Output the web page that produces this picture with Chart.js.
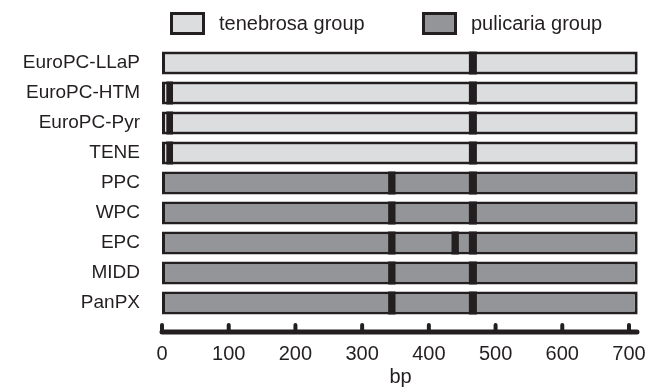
<!DOCTYPE html>
<html>
<head>
<meta charset="utf-8">
<script src="https://cdn.jsdelivr.net/npm/chart.js@4.4.1/dist/chart.umd.min.js"></script>
<style>
  html, body { margin: 0; padding: 0; background: #fff; }
  #wrap { width: 656px; height: 387px; }
</style>
</head>
<body>
<div id="wrap"><canvas id="chart"></canvas></div>
<script>
// Data (bp positions)
const categories = ["EuroPC-LLaP", "EuroPC-HTM", "EuroPC-Pyr", "TENE", "PPC", "WPC", "EPC", "MIDD", "PanPX"];
const groups = ["tenebrosa", "tenebrosa", "tenebrosa", "tenebrosa", "pulicaria", "pulicaria", "pulicaria", "pulicaria", "pulicaria"];
const seqLength = [713, 713, 713, 713, 713, 713, 713, 713, 713];
const site7 = [null, [6.5, 16.5], [6.5, 16.5], [6.5, 16.5], null, null, null, null, null];
const site344 = [null, null, null, null, [339, 350], [339, 350], [339, 350], [339, 350], [339, 350]];
const site440 = [null, null, null, null, null, null, [434, 445], null, null];
const site466 = [[460, 472], [460, 472], [460, 472], [460, 472], [460, 472], [460, 472], [460, 472], [460, 472], [460, 472]];
const xTicks = [0, 100, 200, 300, 400, 500, 600, 700];
const legendLabels = ["tenebrosa group", "pulicaria group"];

const ink = "#231f20";
const lightFill = "#dcdddf";
const darkFill = "#939598";
const fontFamily = "'Liberation Sans', Arial, Helvetica, sans-serif";

const groupColor = g => (g === "tenebrosa" ? lightFill : darkFill);

function markerSet(values) {
    return {
        data: values,
        backgroundColor: ink,
        borderWidth: 0,
        barThickness: 23,
        grouped: false,
        inflateAmount: 0,
        order: 1
    };
}

// Thick axis line with rounded ticks pointing up
const axisLine = {
    id: "axisLine",
    afterDraw(chart) {
        const ctx = chart.ctx;
        const xs = chart.scales.x;
        const y = xs.top + 14;
        ctx.save();
        ctx.strokeStyle = ink;
        ctx.lineCap = "round";
        ctx.lineWidth = 5;
        ctx.beginPath();
        ctx.moveTo(xs.getPixelForValue(0), y);
        ctx.lineTo(xs.getPixelForValue(712), y);
        ctx.stroke();
        ctx.lineWidth = 4;
        ctx.beginPath();
        xTicks.forEach(v => {
            const px = xs.getPixelForValue(v);
            ctx.moveTo(px, y);
            ctx.lineTo(px, y - 7);
        });
        ctx.stroke();
        ctx.restore();
    }
};

// Legend boxes above the plot
const groupLegend = {
    id: "groupLegend",
    afterDraw(chart) {
        const ctx = chart.ctx;
        const items = [
            { x: 170, fill: lightFill, text: legendLabels[0] },
            { x: 422, fill: darkFill, text: legendLabels[1] }
        ];
        ctx.save();
        ctx.font = "20px " + fontFamily;
        ctx.textBaseline = "middle";
        items.forEach(it => {
            ctx.fillStyle = it.fill;
            ctx.fillRect(it.x, 12, 35, 23);
            ctx.lineWidth = 3;
            ctx.strokeStyle = ink;
            ctx.strokeRect(it.x + 1.5, 13.5, 32, 20);
            ctx.fillStyle = ink;
            ctx.fillText(it.text, it.x + 49, 24);
        });
        ctx.restore();
    }
};

new Chart(document.getElementById("chart"), {
    type: "bar",
    data: {
        labels: categories,
        datasets: [
            markerSet(site7),
            markerSet(site344),
            markerSet(site440),
            markerSet(site466),
            {
                data: seqLength.map(v => [0, v]),
                backgroundColor: groups.map(groupColor),
                borderColor: ink,
                borderWidth: 3,
                borderSkipped: false,
                barThickness: 23,
                grouped: false,
                inflateAmount: 0,
                order: 2
            }
        ]
    },
    options: {
        indexAxis: "y",
        responsive: true,
        maintainAspectRatio: false,
        animation: false,
        layout: { padding: { top: 48, right: 17, bottom: 0, left: 0 } },
        plugins: {
            legend: { display: false },
            tooltip: { enabled: false }
        },
        scales: {
            x: {
                type: "linear",
                min: 0,
                max: 715,
                afterBuildTicks: scale => { scale.ticks = xTicks.map(v => ({ value: v })); },
                afterFit: scale => {
                    scale.height = 69;
                    scale.paddingLeft = 0;
                    scale.paddingRight = 0;
                },
                grid: { display: false, drawTicks: false },
                border: { display: false },
                ticks: {
                    padding: 26,
                    color: ink,
                    font: { family: fontFamily, size: 20, lineHeight: 1 }
                },
                title: {
                    display: true,
                    text: "bp",
                    color: ink,
                    padding: { top: 3, bottom: 0 },
                    font: { family: fontFamily, size: 20, lineHeight: 1 }
                }
            },
            y: {
                type: "category",
                afterFit: scale => {
                    scale.width = 162;
                    scale.paddingTop = 0;
                    scale.paddingBottom = 0;
                },
                grid: { display: false, drawTicks: false },
                border: { display: false },
                ticks: {
                    padding: 22,
                    color: ink,
                    font: { family: fontFamily, size: 19 }
                }
            }
        }
    },
    plugins: [axisLine, groupLegend]
});
</script>
</body>
</html>
